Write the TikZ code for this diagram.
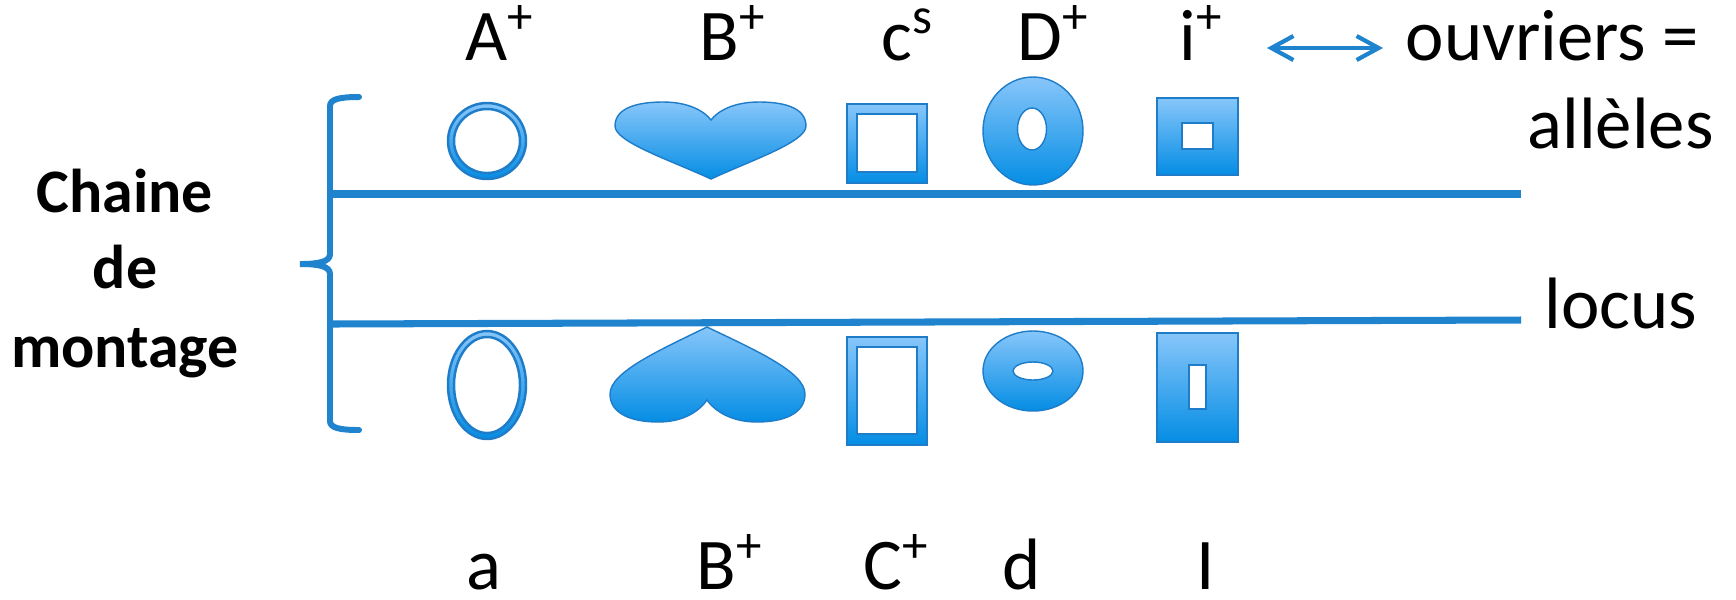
\documentclass[tikz,border=0pt]{standalone}
\usepackage{fontspec}
\setmainfont{Carlito}
\usetikzlibrary{arrows.meta,shadings}
\definecolor{lineblue}{RGB}{31,131,206}
\definecolor{edgeblue}{RGB}{30,124,200}
\definecolor{lightblue}{RGB}{135,198,250}
\definecolor{deepblue}{RGB}{4,141,228}
\begin{document}
\begin{tikzpicture}
	[	x=0.01cm,y=-0.01cm,
		lbl/.style={inner sep=0,anchor=base west,font=\fontsize{20.7}{25}\selectfont},
		bold/.style={inner sep=0,anchor=base,font=\fontsize{17.6}{21}\selectfont\bfseries},
		chain/.style={draw=lineblue,line width=2pt},
		brace/.style={draw=lineblue,line width=1.7pt,line cap=round},
		piece/.style={draw=edgeblue,line width=.4pt,top color=lightblue,bottom color=deepblue,even odd rule},
		link/.style={{Straight Barb[length=2.2mm,width=2.4mm]}-{Straight Barb[length=2.2mm,width=2.4mm]},draw=lineblue,line width=1.2pt,line cap=round}
	]
	\useasboundingbox (0,0) rectangle (1736,599);

	\node[bold] (ch1) at (125,212) {Chaine};
	\node[bold] (ch2) at (125,288) {de};
	\node[bold] (ch3) at (125,367) {montage};

	\node[lbl] (Ap) at (465,60) {A\textsuperscript{+}};
	\node[lbl] (Bp) at (699,60) {B\textsuperscript{+}};
	\node[lbl] (cs) at (881,60) {c\textsuperscript{s}};
	\node[lbl] (Dp) at (1017,60) {D\textsuperscript{+}};
	\node[lbl] (ip) at (1179,60) {i\textsuperscript{+}};
	\node[lbl] (ouv) at (1405,60) {ouvriers =};
	\node[lbl] (all) at (1527,148) {allèles};
	\node[lbl] (loc) at (1544,328) {locus};

	\node[lbl] (am) at (466,589) {a};
	\node[lbl] (Bb) at (696,589) {B\textsuperscript{+}};
	\node[lbl] (Cp) at (863,589) {C\textsuperscript{+}};
	\node[lbl] (dm) at (1002,589) {d};
	\node[lbl] (Im) at (1196,589) {I};

	\coordinate (arL) at (1267,48);
	\coordinate (arR) at (1383,48);
	\draw[link] (arL) -- (arR);

	\draw[brace] (359,97) .. controls (340,97) and (330,99) .. (330,106) -- (330,254)
		.. controls (330,262) and (318,264) .. (300,264)
		.. controls (318,264) and (330,266) .. (330,274) -- (330,421)
		.. controls (330,428) and (340,430) .. (359,430);
	\draw[chain] (330,194) -- (1521,194);
	\draw[chain] (330,324) -- (1521,320);

	\path[piece,line width=.7pt] (487,141) ellipse [x radius=39,y radius=38] (487,141) ellipse [x radius=33,y radius=32];
	\path[piece,line width=.7pt] (487,385) ellipse [x radius=39,y radius=54] (487,385) ellipse [x radius=33,y radius=48];

	\path[piece] (711,179) .. controls (670,160) and (615,142) .. (615,126)
		.. controls (615,106) and (642,102) .. (663,102)
		.. controls (690,102) and (705,112) .. (711,120)
		.. controls (717,112) and (732,102) .. (759,102)
		.. controls (780,102) and (806,106) .. (806,126)
		.. controls (806,142) and (752,160) .. (711,179) -- cycle;
	\path[piece] (707,327) .. controls (660,350) and (610,372) .. (610,394)
		.. controls (610,414) and (632,422) .. (658,422)
		.. controls (685,422) and (700,410) .. (707,400)
		.. controls (714,410) and (730,422) .. (757,422)
		.. controls (783,422) and (805,414) .. (805,394)
		.. controls (805,372) and (755,350) .. (707,327) -- cycle;

	\path[piece] (847,104) rectangle (927,183) (857,114) rectangle (917,172);
	\path[piece] (847,337) rectangle (927,445) (857,347) rectangle (917,434);

	\path[piece] (1033,131) ellipse [x radius=50,y radius=54] (1032,129) ellipse [x radius=14.5,y radius=21];
	\path[piece] (1033,371) ellipse [x radius=50,y radius=40] (1033,371) ellipse [x radius=20,y radius=9];

	\path[piece] (1157,98) rectangle (1238,175) (1182,123) rectangle (1213,149);
	\path[piece] (1157,333) rectangle (1238,442) (1189,365) rectangle (1206,409);
\end{tikzpicture}
\end{document}
